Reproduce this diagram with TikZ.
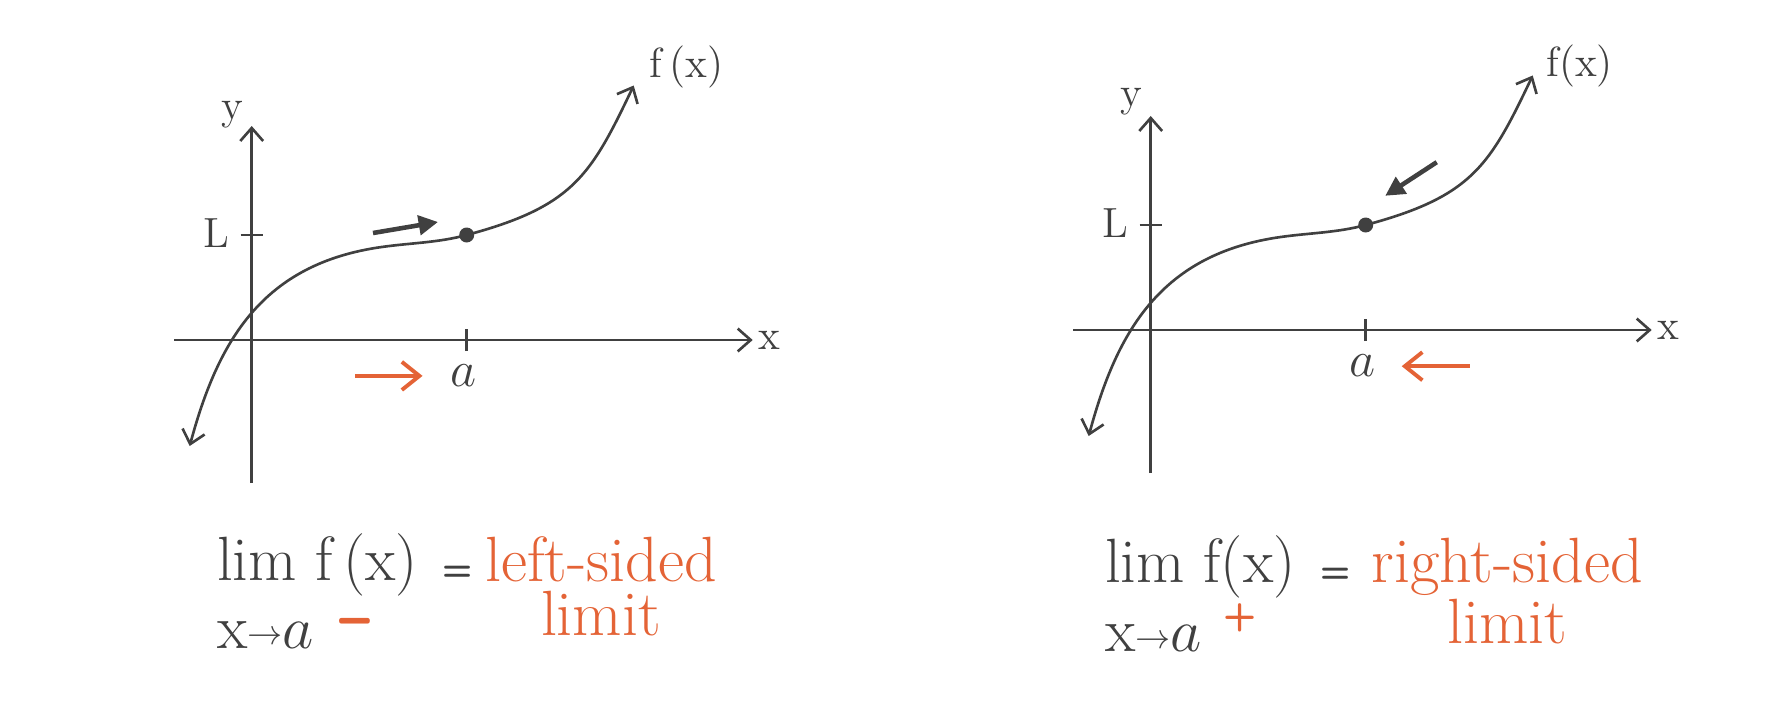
\documentclass[tikz,border=0pt]{standalone}
\usepackage{amsmath}
\usetikzlibrary{arrows.meta, positioning}
\definecolor{graphgray}{RGB}{64,64,64}
\definecolor{sideorange}{RGB}{228,99,54}

\begin{document}
\begin{tikzpicture}[
    axis/.style={draw=graphgray, line width=0.75pt, -{Straight Barb[length=3.7pt, width=6.5pt]}},
    curve/.style={draw=graphgray, line width=0.75pt, {Straight Barb[length=3.7pt, width=6.5pt]}-{Straight Barb[length=3.7pt, width=6.5pt]}},
    tickmark/.style={draw=graphgray, line width=0.75pt},
    approach/.style={draw=graphgray, line width=1.3pt, -{Triangle[length=5.5pt, width=5.5pt]}},
    side/.style={draw=sideorange, line width=1.1pt, -{Straight Barb[length=5pt, width=8pt]}},
    lbl/.style={text=graphgray, font=\fontsize{12}{14}\selectfont, inner sep=0pt},
    formula/.style={text=graphgray, align=left, inner sep=0pt},
    sided/.style={text=sideorange, align=center, inner sep=0pt},
    limdot/.style={circle, fill=graphgray, inner sep=0pt, minimum size=1.5mm}
]
\useasboundingbox (0,0) rectangle (17.67,7.21);

% left-sided limit
\begin{scope}[shift={(2.517,3.81)}]
\coordinate (xminL) at (-0.777,0);
\coordinate (xmaxL) at (5.01,0);
\coordinate (yminL) at (0,-1.43);
\coordinate (ymaxL) at (0,2.14);
\coordinate (LaL) at (-0.11,1.05);
\coordinate (LbL) at (0.115,1.05);
\coordinate (aaL) at (2.15,-0.11);
\coordinate (abL) at (2.15,0.11);
\draw[axis] (xminL) -- (xmaxL);
\draw[axis] (yminL) -- (ymaxL);
\draw[tickmark] (LaL) -- (LbL);
\draw[tickmark] (aaL) -- (abL);
\draw[curve] (-0.62,-1.06) .. controls (-0.335,0.0) and (0.112,0.763) .. (1.3,0.93)
  .. controls (1.597,0.972) and (1.86,0.972) .. (2.15,1.05)
  .. controls (3.2125,1.335) and (3.39,1.642) .. (3.82,2.545);
\node[limdot] (dotL) at (2.15,1.05) {};
\node[lbl] (yL) at (-0.197,2.25) {y};
\node[lbl] (xL) at (5.18,0) {x};
\node[lbl] (LL) at (-0.35,1.07) {L};
\node[lbl] (fL) at (4.35,2.73) {f\,(x)};
\node[lbl, font=\fontsize{14.5}{16}\selectfont] (aL) at (2.117,-0.36) {$a$};
\coordinate (pfromL) at (1.213,1.07);
\coordinate (ptoL) at (1.863,1.18);
\draw[approach] (pfromL) -- (ptoL);
\coordinate (sfromL) at (1.034,-0.359);
\coordinate (stoL) at (1.708,-0.359);
\draw[side] (sfromL) -- (stoL);
\end{scope}

\node[formula, font=\fontsize{17.8}{19.3}\selectfont, anchor=north west] (limL) at (2.164,1.88)
  {lim f\,(x)\hspace{0.4em}{\fontsize{10}{10}\selectfont\sffamily\bfseries =}\\
   x\raisebox{1pt}{\fontsize{10}{10}\selectfont$\rightarrow$}$a$\hspace{0.41em}\raisebox{1.5pt}{\textcolor{sideorange}{\scalebox{1}[1.4]{\fontsize{16}{16}\selectfont\sffamily\bfseries --}}}};
\node[sided, font=\fontsize{18.2}{15.6}\selectfont, anchor=north] (leftsided) at (6.01,1.855) {left-sided\\limit};

% right-sided limit
\begin{scope}[shift={(11.507,3.91)}]
\coordinate (xminR) at (-0.777,0);
\coordinate (xmaxR) at (5.01,0);
\coordinate (yminR) at (0,-1.43);
\coordinate (ymaxR) at (0,2.14);
\coordinate (LaR) at (-0.11,1.05);
\coordinate (LbR) at (0.115,1.05);
\coordinate (aaR) at (2.15,-0.11);
\coordinate (abR) at (2.15,0.11);
\draw[axis] (xminR) -- (xmaxR);
\draw[axis] (yminR) -- (ymaxR);
\draw[tickmark] (LaR) -- (LbR);
\draw[tickmark] (aaR) -- (abR);
\draw[curve] (-0.62,-1.06) .. controls (-0.335,0.0) and (0.112,0.763) .. (1.3,0.93)
  .. controls (1.597,0.972) and (1.86,0.972) .. (2.15,1.05)
  .. controls (3.2125,1.335) and (3.39,1.642) .. (3.82,2.545);
\node[limdot] (dotR) at (2.15,1.05) {};
\node[lbl] (yR) at (-0.198,2.28) {y};
\node[lbl] (xR) at (5.18,0) {x};
\node[lbl] (LR) at (-0.35,1.07) {L};
\node[lbl] (fR) at (4.29,2.64) {f(x)};
\node[lbl, font=\fontsize{14.5}{16}\selectfont] (aR) at (2.12,-0.36) {$a$};
\coordinate (pfromR) at (2.86,1.678);
\coordinate (ptoR) at (2.345,1.342);
\draw[approach] (pfromR) -- (ptoR);
\coordinate (sfromR) at (3.19,-0.362);
\coordinate (stoR) at (2.51,-0.362);
\draw[side] (sfromR) -- (stoR);
\end{scope}

\node[formula, font=\fontsize{17.8}{19.8}\selectfont, anchor=north west] (limR) at (11.045,1.863)
  {lim f(x)\hspace{0.4em}{\fontsize{10}{10}\selectfont\sffamily\bfseries =}\\
   x\raisebox{1pt}{\fontsize{10}{10}\selectfont$\rightarrow$}$a$\hspace{0.35em}\raisebox{6.9pt}{\textcolor{sideorange}{\fontsize{11}{11}\selectfont\sffamily\bfseries +}}};
\node[sided, font=\fontsize{18.2}{15.1}\selectfont, anchor=north] (rightsided) at (15.075,1.838) {right-sided\\limit};

\end{tikzpicture}
\end{document}
